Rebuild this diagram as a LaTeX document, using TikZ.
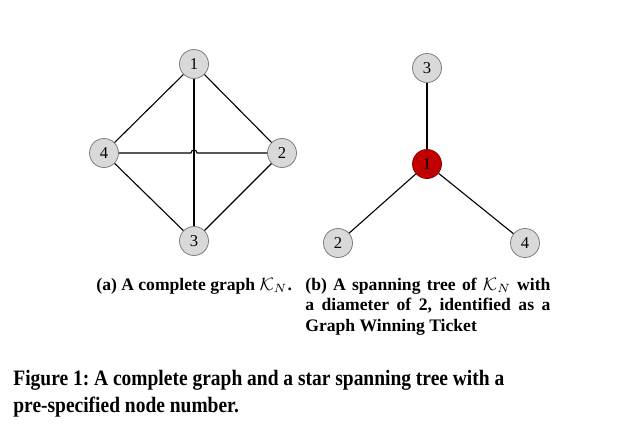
\documentclass[tikz,border=0pt]{standalone}
\usepackage{fontspec}
\setmainfont{Liberation Serif}
\newfontfamily\capfont{Liberation Serif}[FakeStretch=0.885]
\usetikzlibrary{calc}

\definecolor{nodegray}{RGB}{217,217,217}
\definecolor{rimgray}{RGB}{125,125,125}
\definecolor{rootred}{RGB}{192,0,0}

\begin{document}
\begin{tikzpicture}[x=0.5pt, y=-0.5pt,
		vtx/.style={circle, draw=rimgray, fill=nodegray, minimum size=14.5pt, inner sep=0pt, font=\fontsize{8.3}{10}\selectfont},
		hub/.style={vtx, fill=rootred, draw=rootred!75!black},
		edge/.style={line width=0.55pt},
		subcap/.style={font=\fontsize{8.8}{10.25}\selectfont\bfseries\frenchspacing, inner sep=0pt},
		figcap/.style={font=\fontsize{11}{13.5}\selectfont\capfont\bfseries\frenchspacing, inner sep=0pt, align=left}]
		%%%%% START %%%%%
		
		\useasboundingbox (0, 0) rectangle (636, 429);
		
		% (a) complete graph
		\node[vtx] (a1) at (194, 64) {1};
		\node[vtx] (a2) at (282, 153) {2};
		\node[vtx] (a3) at (194, 241) {3};
		\node[vtx] (a4) at (104, 153) {4};
		\coordinate (hop) at (194, 153);
		
		\draw[edge] (a1) -- (a2);
		\draw[edge] (a2) -- (a3);
		\draw[edge] (a3) -- (a4);
		\draw[edge] (a4) -- (a1);
		\draw[edge] (a1) -- (a3);
		\draw[edge] (a4) -- ([xshift=-1.5pt]hop) arc (180:360:3) -- (a2);
		
		% (b) star spanning tree
		\node[hub] (b1) at (427, 164) {1};
		\node[vtx] (b2) at (338, 243) {2};
		\node[vtx] (b3) at (427, 68) {3};
		\node[vtx] (b4) at (525, 243) {4};
		
		\draw[edge] (b1) -- (b2);
		\draw[edge] (b1) -- (b3);
		\draw[edge] (b1) -- (b4);
		
		% captions
		\node[subcap, anchor=base west] (capa) at (96, 290) {(a) A complete graph $\mathcal{K}_N$.};
		\node[subcap, anchor=base west, text width=122.5pt, align=justify] (capb) at (305, 290)
			{(b) A spanning tree of $\mathcal{K}_N$ with\linebreak a diameter of 2, identified as a\linebreak Graph Winning Ticket};
		\node[figcap, anchor=base west] (fig) at (13, 412) {Figure 1: A complete graph and a star spanning tree with a\\pre-specified node number.};
		
		%%%%% END %%%%%
	\end{tikzpicture}
\end{document}
